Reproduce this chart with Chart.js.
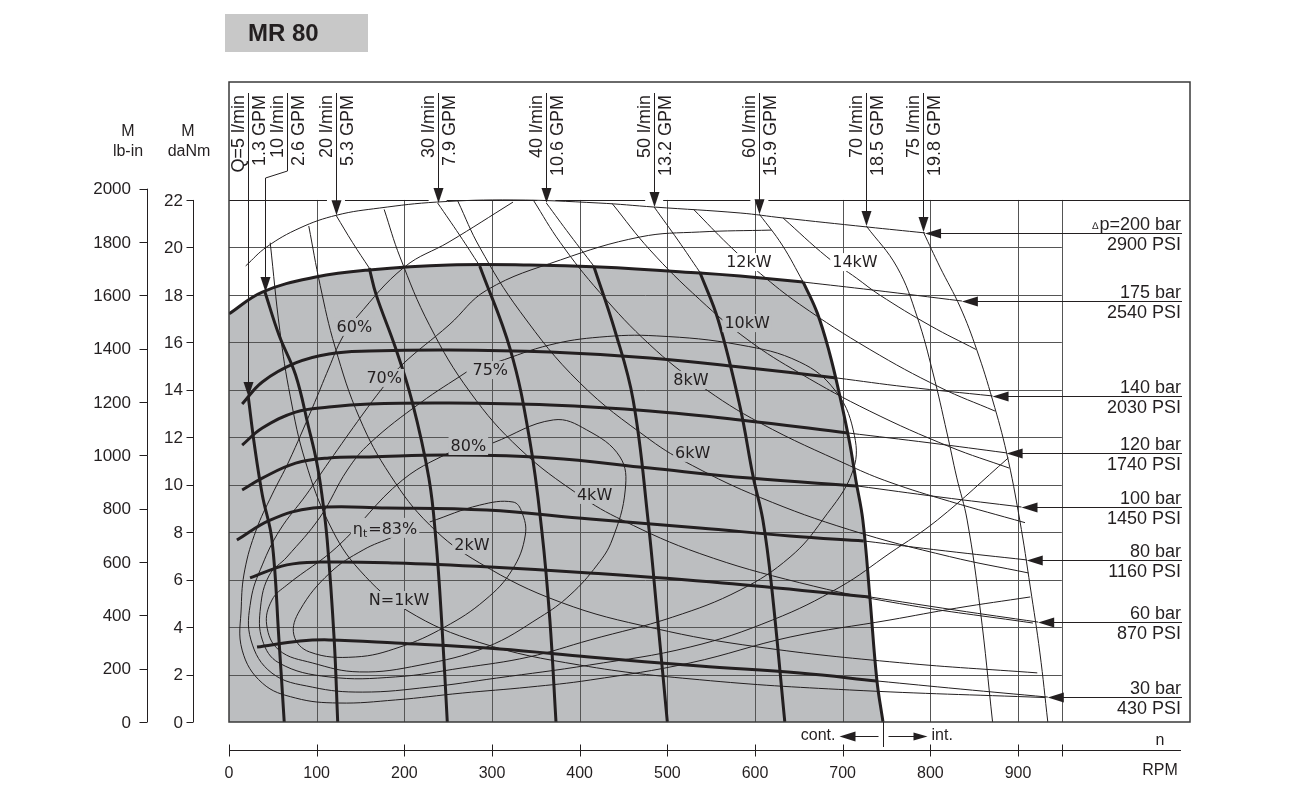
<!DOCTYPE html>
<html>
<head>
<meta charset="utf-8">
<title>MR 80</title>
<script src="https://cdn.jsdelivr.net/npm/chart.js@4.4.0/dist/chart.umd.min.js"></script>
<style>
  html, body { margin: 0; padding: 0; background: #fff; }
  canvas { display: block; }
</style>
</head>
<body>
<canvas id="chart" width="1296" height="794"></canvas>
<script>
// axes
const rpmTicks = [0, 100, 200, 300, 400, 500, 600, 700, 800, 900];
const rpmGrid = [100, 200, 300, 400, 500, 600, 700, 800, 900, 950];
const nmTicks = [0, 2, 4, 6, 8, 10, 12, 14, 16, 18, 20, 22];
const lbTicks = [0, 200, 400, 600, 800, 1000, 1200, 1400, 1600, 1800, 2000];

// pressure lines [rpm, daNm]: bold = continuous, Int = intermittent (thin)
const p30 = [[32, 3.16], [81, 3.41], [114, 3.46], [190, 3.33], [309, 3.08], [411, 2.74], [537, 2.36], [651, 2.06], [739, 1.73]];
const p30Int = [[739, 1.73], [834, 1.39], [934, 1.05]];
const p60 = [[24, 6.07], [66, 6.62], [104, 6.74], [190, 6.70], [298, 6.53], [411, 6.28], [563, 5.86], [731, 5.27]];
const p60Int = [[731, 5.27], [828, 4.72], [923, 4.21]];
const p80 = [[9, 7.67], [47, 8.51], [96, 9.02], [180, 9.02], [294, 8.93], [412, 8.55], [537, 8.18], [640, 7.84], [724, 7.63]];
const p80Int = [[724, 7.63], [817, 7.21], [910, 6.83]];
const p100 = [[15, 9.78], [38, 10.28], [76, 10.91], [114, 11.13], [160, 11.17], [251, 11.25], [366, 11.13], [480, 10.70], [594, 10.28], [716, 9.95]];
const p100Int = [[716, 9.95], [811, 9.48], [904, 9.06]];
const p120 = [[15, 11.67], [38, 12.39], [76, 13.06], [114, 13.27], [160, 13.40], [251, 13.44], [366, 13.36], [480, 13.11], [583, 12.73], [706, 12.18]];
const p120Int = [[706, 12.18], [800, 11.76], [887, 11.34]];
const p140 = [[15, 13.40], [38, 14.33], [76, 15.13], [114, 15.51], [160, 15.63], [251, 15.68], [366, 15.59], [480, 15.34], [583, 14.96], [693, 14.50]];
const p140Int = [[693, 14.50], [773, 14.12], [871, 13.74]];
const p175 = [[0, 17.2], [38, 18.12], [99, 18.75], [160, 19.05], [251, 19.26], [343, 19.26], [423, 19.17], [537, 18.92], [583, 18.79], [655, 18.54]];
const p175Int = [[655, 18.54], [735, 18.20], [836, 17.74]];
const p200Int = [[19, 19.22], [43, 20.02], [81, 20.82], [123, 21.36], [172, 21.66], [237, 21.91], [324, 22.0], [422, 21.87], [485, 21.70], [583, 21.45], [632, 21.24], [728, 20.86], [794, 20.61]];

// flow lines (l/min)
const q5 = [[22, 13.7], [29, 11.67], [38, 9.57], [49, 7.67], [57, 3.46], [63, 0]];
const q10 = [[41, 18.12], [57, 16.31], [76, 14.62], [91, 12.39], [100, 10.96], [106, 9.57], [112, 7.67], [120, 3.46], [124, 0]];
const q20Int = [[122, 21.36], [141, 20.2], [160, 19.13]];
const q20 = [[160, 19.13], [168, 17.99], [190, 15.76], [209, 13.49], [228, 10.28], [236, 7.67], [243, 4.0], [249, 0]];
const q30Int = [[238, 21.87], [263, 20.52], [286, 19.22]];
const q30 = [[286, 19.22], [321, 15.68], [343, 11.88], [357, 8.0], [366, 4.3], [373, 0]];
const q40Int = [[362, 21.87], [389, 20.52], [416, 19.22]];
const q40 = [[416, 19.22], [440, 16.52], [461, 13.57], [478, 8.51], [489, 4.3], [500, 0]];
const q50Int = [[485, 21.70], [512, 20.31], [537, 18.96]];
const q50 = [[537, 18.96], [558, 16.94], [583, 13.27], [598, 10.32], [609, 8.51], [619, 5.69], [634, 0]];
const q60Int = [[605, 21.4], [631, 20.10], [655, 18.54]];
const q60 = [[655, 18.54], [671, 17.24], [685, 15.55], [697, 13.70], [708, 11.76], [715, 10.20], [723, 8.51], [731, 5.27], [739, 1.77], [746, 0]];
const q70Int = [[727, 20.9], [762, 19.17], [785, 17.07], [803, 14.71], [819, 12.18], [830, 10.32], [842, 8.51], [857, 4.72], [871, 0]];
const q75Int = [[792, 20.65], [811, 19.17], [834, 17.49], [853, 15.68], [871, 13.57], [887, 11.34], [902, 8.51], [914, 5.69], [925, 2.91], [934, 0]];

// output power lines (kW)
const kw1 = [[47, 20.2], [58, 16.5], [70, 13.7], [87, 11.0], [115, 8.3], [149, 6.4], [203, 4.7], [286, 3.35], [400, 2.4], [537, 1.78], [708, 1.35], [931, 1.03]];
const kw2 = [[91, 20.9], [104, 18.4], [121, 15.8], [149, 12.8], [184, 10.4], [229, 8.3], [286, 6.7], [378, 5.05], [485, 3.95], [602, 3.17], [765, 2.5], [922, 2.07]];
const kw4 = [[177, 21.6], [195, 19.6], [229, 16.7], [275, 13.9], [332, 11.5], [400, 9.55], [449, 8.5], [537, 7.1], [651, 5.87], [765, 4.99], [917, 4.17]];
const kw6 = [[261, 21.95], [286, 20.0], [332, 17.3], [400, 14.3], [480, 11.9], [529, 10.8], [606, 9.46], [708, 8.1], [822, 6.97], [912, 6.28]];
const kw8 = [[347, 22.0], [378, 20.2], [423, 18.1], [480, 15.9], [537, 14.2], [606, 12.6], [708, 10.8], [754, 10.1], [822, 9.3], [908, 8.4]];
const kw10 = [[437, 21.85], [480, 19.9], [537, 17.8], [592, 16.1], [651, 14.7], [731, 13.1], [822, 11.6], [890, 10.7]];
const kw12 = [[530, 21.6], [570, 20.1], [606, 18.9], [651, 17.6], [731, 15.7], [811, 14.1], [874, 13.1]];
const kw14 = [[632, 21.24], [682, 19.6], [716, 18.7], [742, 18.0], [800, 16.7], [852, 15.7]];

// total efficiency lines
const eff60 = [[324, 21.91], [251, 20.23], [200, 19.17], [146, 17.07], [129, 16.18], [114, 14.92], [95, 13.23], [68, 10.96], [49, 9.57], [31, 8.09], [18, 6.41], [14, 4.85], [15, 3.03], [38, 1.64], [76, 1.01], [125, 0.80], [190, 0.93], [266, 1.22], [342, 1.47], [412, 1.77], [526, 2.49], [640, 3.58], [754, 4.30], [830, 4.80], [914, 5.27]];
const eff70 = [[619, 20.73], [537, 20.65], [469, 20.44], [378, 19.47], [294, 18.20], [251, 16.73], [197, 15.04], [175, 14.07], [152, 12.94], [114, 10.96], [88, 9.57], [58, 8.09], [38, 6.62], [25, 5.14], [25, 3.46], [49, 2.06], [95, 1.47], [152, 1.26], [228, 1.47], [305, 1.85], [411, 2.40], [526, 3.16], [620, 4.30], [697, 5.69], [754, 7.12], [808, 8.51], [889, 11.13]];
const eff75 = [[306, 15.17], [366, 15.89], [423, 16.22], [488, 16.27], [583, 15.89], [651, 15.17], [691, 13.99], [712, 12.31], [712, 10.62], [677, 8.51], [640, 6.95], [583, 5.56], [506, 4.42], [412, 3.46], [342, 2.74], [266, 2.28], [190, 1.90], [114, 1.90], [57, 2.49], [38, 3.46], [36, 4.85], [46, 6.19], [66, 6.95], [104, 8.64], [135, 10.62], [161, 11.76], [218, 13.44], [271, 14.75]];
const eff80 = [[301, 11.76], [370, 12.73], [408, 12.31], [446, 11.17], [452, 9.78], [437, 7.67], [420, 6.62], [389, 5.35], [355, 4.42], [294, 3.16], [218, 2.40], [149, 2.11], [95, 2.49], [57, 3.03], [43, 4.09], [49, 5.14], [66, 5.77], [123, 7.37], [198, 10.20], [263, 11.59]];
const eff83 = [[229, 8.43], [286, 9.14], [324, 9.27], [334, 8.85], [338, 7.88], [323, 6.41], [292, 5.14], [246, 4.00], [195, 3.16], [144, 2.74], [92, 2.95], [74, 3.67], [81, 4.72], [115, 6.28], [153, 7.25], [187, 7.80]];

// labels
const flowLpm = [5, 10, 20, 30, 40, 50, 60, 70, 75];
const flowGpm = ['1.3', '2.6', '5.3', '7.9', '10.6', '13.2', '15.9', '18.5', '19.8'];
const pressureBar = [200, 175, 140, 120, 100, 80, 60, 30];
const pressurePsi = [2900, 2540, 2030, 1740, 1450, 1160, 870, 430];

const flowTips = [q5, q10, q20Int, q30Int, q40Int, q50Int, q60Int, q70Int, q75Int];
const pressureTips = [p200Int, p175Int, p140Int, p120Int, p100Int, p80Int, p60Int, p30Int];

const markLabels = [
    { text: '60%', at: [143, 16.65] },
    { text: '70%', at: [177, 14.5] },
    { text: '75%', at: [298, 14.83] },
    { text: '80%', at: [273, 11.63] },
    { text: 'eta', at: [178, 8.18] },
    { text: 'N=1kW', at: [194, 5.14] },
    { text: '2kW', at: [277, 7.46] },
    { text: '4kW', at: [417, 9.57] },
    { text: '6kW', at: [529, 11.34] },
    { text: '8kW', at: [527, 14.41] },
    { text: '10kW', at: [591, 16.81] },
    { text: '12kW', at: [593, 19.38] },
    { text: '14kW', at: [714, 19.38] }
];

const ink = '#231f20';
const gridInk = '#555555';
const grey = '#bcbec0';
const textFont = '"Liberation Sans", Arial, sans-serif';
const markFont = '"DejaVu Sans", sans-serif';
const THIN = 1, BOLD = 3;

function line(label, arr, width) {
    return {
        label: label,
        data: arr.map(p => ({ x: p[0], y: p[1] })),
        borderColor: ink,
        borderWidth: width,
        pointRadius: 0,
        tension: 0.4,
        fill: false
    };
}

const datasets = [
    line('175 bar', p175, BOLD), line('140 bar', p140, BOLD), line('120 bar', p120, BOLD),
    line('100 bar', p100, BOLD), line('80 bar', p80, BOLD), line('60 bar', p60, BOLD), line('30 bar', p30, BOLD),
    line('Q5', q5, BOLD), line('Q10', q10, BOLD), line('Q20', q20, BOLD), line('Q30', q30, BOLD),
    line('Q40', q40, BOLD), line('Q50', q50, BOLD), line('Q60', q60, BOLD),
    line('200 bar', p200Int, THIN), line('175 bar int', p175Int, THIN), line('140 bar int', p140Int, THIN),
    line('120 bar int', p120Int, THIN), line('100 bar int', p100Int, THIN), line('80 bar int', p80Int, THIN),
    line('60 bar int', p60Int, THIN), line('30 bar int', p30Int, THIN),
    line('Q20 int', q20Int, THIN), line('Q30 int', q30Int, THIN), line('Q40 int', q40Int, THIN),
    line('Q50 int', q50Int, THIN), line('Q60 int', q60Int, THIN), line('Q70', q70Int, THIN), line('Q75', q75Int, THIN),
    line('1 kW', kw1, THIN), line('2 kW', kw2, THIN), line('4 kW', kw4, THIN), line('6 kW', kw6, THIN),
    line('8 kW', kw8, THIN), line('10 kW', kw10, THIN), line('12 kW', kw12, THIN), line('14 kW', kw14, THIN),
    line('60%', eff60, THIN), line('70%', eff70, THIN), line('75%', eff75, THIN),
    line('80%', eff80, THIN), line('83%', eff83, THIN)
];

let areaPath = null;

function crisp(v) { return Math.round(v) + 0.5; }

function buildArea(chart) {
    const { x, y } = chart.scales;
    const idxTop = chart.data.datasets.findIndex(d => d.label === '175 bar');
    const idxSide = chart.data.datasets.findIndex(d => d.label === 'Q60');
    const top = chart.getDatasetMeta(idxTop).data;
    const side = chart.getDatasetMeta(idxSide).data;
    const path = new Path2D();
    path.moveTo(x.getPixelForValue(0), y.getPixelForValue(0));
    path.lineTo(top[0].x, top[0].y);
    [top, side].forEach(pts => {
        for (let i = 1; i < pts.length; i++) {
            const a = pts[i - 1], b = pts[i];
            path.bezierCurveTo(a.cp2x, a.cp2y, b.cp1x, b.cp1y, b.x, b.y);
        }
    });
    path.closePath();
    return path;
}

function vText(ctx, text, cx, topY) {
    ctx.save();
    ctx.translate(cx + 6.5, topY);
    ctx.rotate(-Math.PI / 2);
    ctx.textAlign = 'right';
    ctx.textBaseline = 'alphabetic';
    ctx.fillText(text, 0, 0);
    ctx.restore();
}

function arrowHead(ctx, tx, ty, dir) {
    // dir: 'down', 'left', 'right'
    ctx.beginPath();
    if (dir === 'down') {
        ctx.moveTo(tx, ty); ctx.lineTo(tx - 5, ty - 15); ctx.lineTo(tx + 5, ty - 15);
    } else if (dir === 'left') {
        ctx.moveTo(tx, ty); ctx.lineTo(tx + 16, ty - 5); ctx.lineTo(tx + 16, ty + 5);
    } else {
        ctx.moveTo(tx, ty); ctx.lineTo(tx - 14, ty - 4); ctx.lineTo(tx - 14, ty + 4);
    }
    ctx.closePath();
    ctx.fill();
}

const drawing = {
    id: 'mrDrawing',
    beforeDatasetsDraw(chart) {
        const { ctx, chartArea: a, scales: { x, y } } = chart;
        areaPath = buildArea(chart);
        ctx.save();
        ctx.fillStyle = grey;
        ctx.fill(areaPath);

        // grid
        ctx.strokeStyle = gridInk;
        ctx.lineWidth = 1;
        ctx.beginPath();
        rpmGrid.forEach(v => {
            const px = crisp(x.getPixelForValue(v));
            ctx.moveTo(px, y.getPixelForValue(22));
            ctx.lineTo(px, a.bottom);
        });
        nmTicks.filter(v => v > 0 && v < 22).forEach(v => {
            const py = crisp(y.getPixelForValue(v));
            ctx.moveTo(a.left, py);
            ctx.lineTo(x.getPixelForValue(950), py);
        });
        ctx.stroke();

        // top torque line, broken where flow arrows pass
        const py22 = crisp(y.getPixelForValue(22));
        const gaps = [2, 3, 4, 5, 6].map(i => x.getPixelForValue(flowTips[i][0][0]));
        ctx.strokeStyle = ink;
        ctx.beginPath();
        let from = a.left;
        gaps.forEach(g => {
            ctx.moveTo(from, py22); ctx.lineTo(g - 9, py22);
            from = g + 9;
        });
        ctx.moveTo(from, py22); ctx.lineTo(a.right, py22);
        ctx.stroke();
        ctx.restore();
    },
    afterDatasetsDraw(chart) {
        const { ctx, chartArea: a, scales: { x, y, yLb } } = chart;
        ctx.save();

        // frame
        ctx.strokeStyle = '#3a3a3a';
        ctx.lineWidth = 1.5;
        ctx.strokeRect(a.left, a.top, a.right - a.left, a.bottom - a.top);

        // power / efficiency labels
        markLabels.forEach(l => {
            const px = x.getPixelForValue(l.at[0]);
            const py = y.getPixelForValue(l.at[1]);
            const bg = ctx.isPointInPath(areaPath, px, py) ? grey : '#ffffff';
            if (l.text === 'eta') {
                ctx.font = '16px ' + markFont;
                const wa = ctx.measureText('\u03b7').width;
                const wc = ctx.measureText('=83%').width;
                ctx.font = '11px ' + markFont;
                const wb = ctx.measureText('t').width;
                const w = wa + wb + 1 + wc;
                const left = px - w / 2;
                ctx.fillStyle = bg;
                ctx.fillRect(left - 2, py - 10, w + 4, 20);
                ctx.fillStyle = ink;
                ctx.textAlign = 'left';
                ctx.textBaseline = 'alphabetic';
                ctx.font = '16px ' + markFont;
                ctx.fillText('\u03b7', left, py + 6);
                ctx.font = '11px ' + markFont;
                ctx.fillText('t', left + wa, py + 9);
                ctx.font = '16px ' + markFont;
                ctx.fillText('=83%', left + wa + wb + 1, py + 6);
                return;
            }
            ctx.font = '16px ' + markFont;
            const w = ctx.measureText(l.text).width;
            ctx.fillStyle = bg;
            ctx.fillRect(px - w / 2 - 2, py - 9, w + 4, 18);
            ctx.fillStyle = ink;
            ctx.textAlign = 'center';
            ctx.textBaseline = 'middle';
            ctx.fillText(l.text, px, py + 1);
        });

        // flow arrows and labels
        ctx.strokeStyle = ink;
        ctx.fillStyle = ink;
        ctx.lineWidth = 1;
        ctx.font = '18px ' + textFont;
        flowLpm.forEach((q, i) => {
            const tip = flowTips[i][0];
            const tx = crisp(x.getPixelForValue(tip[0]));
            const ty = y.getPixelForValue(tip[1]);
            const sx = q === 10 ? tx + 22 : tx;
            ctx.beginPath();
            ctx.moveTo(sx, 93);
            if (sx !== tx) {
                ctx.lineTo(sx, 171);
                ctx.lineTo(tx, 178);
            }
            ctx.lineTo(tx, ty - 10);
            ctx.stroke();
            arrowHead(ctx, tx, ty, 'down');
            vText(ctx, (i === 0 ? 'Q=' : '') + q + ' l/min', sx - 11, 95);
            vText(ctx, flowGpm[i] + ' GPM', sx + 10, 95);
        });

        // pressure arrows and labels
        pressureBar.forEach((bar, i) => {
            const arr = pressureTips[i];
            const tip = arr[arr.length - 1];
            const tx = x.getPixelForValue(tip[0]);
            const ty = crisp(y.getPixelForValue(tip[1]));
            ctx.beginPath();
            ctx.moveTo(tx + 12, ty);
            ctx.lineTo(1182, ty);
            ctx.stroke();
            arrowHead(ctx, tx, ty, 'left');
            ctx.font = '18px ' + textFont;
            ctx.textAlign = 'right';
            ctx.textBaseline = 'alphabetic';
            if (i === 0) {
                const t = 'p=' + bar + ' bar';
                const w = ctx.measureText(t).width;
                ctx.fillText(t, 1181, ty - 4);
                ctx.font = '10px ' + textFont;
                ctx.fillText('\u2206', 1181 - w - 1, ty - 5);
                ctx.font = '18px ' + textFont;
            } else {
                ctx.fillText(bar + ' bar', 1181, ty - 4);
            }
            ctx.textBaseline = 'top';
            ctx.fillText(pressurePsi[i] + ' PSI', 1181, ty + 3);
        });

        // torque axes (daNm and lb-in)
        const axNm = 193.5, axLb = 147.5;
        ctx.lineWidth = 1;
        ctx.beginPath();
        ctx.moveTo(axNm, y.getPixelForValue(0));
        ctx.lineTo(axNm, y.getPixelForValue(22));
        nmTicks.forEach(v => {
            const py = crisp(y.getPixelForValue(v));
            ctx.moveTo(axNm - 7, py);
            ctx.lineTo(axNm, py);
        });
        ctx.moveTo(axLb, yLb.getPixelForValue(0));
        ctx.lineTo(axLb, yLb.getPixelForValue(2000));
        lbTicks.forEach(v => {
            const py = crisp(yLb.getPixelForValue(v));
            ctx.moveTo(axLb - 8, py);
            ctx.lineTo(axLb, py);
        });
        ctx.stroke();

        ctx.font = '17px ' + textFont;
        ctx.textAlign = 'right';
        ctx.textBaseline = 'middle';
        nmTicks.forEach(v => ctx.fillText(String(v), 183, y.getPixelForValue(v) + 1));
        lbTicks.forEach(v => ctx.fillText(String(v), 131, yLb.getPixelForValue(v) + 1));

        ctx.font = '16px ' + textFont;
        ctx.textAlign = 'center';
        ctx.fillText('M', 128, 132);
        ctx.fillText('lb-in', 128, 152);
        ctx.fillText('M', 188, 132);
        ctx.fillText('daNm', 189, 152);

        // speed axis
        const axY = 750.5;
        ctx.beginPath();
        ctx.moveTo(a.left, axY);
        ctx.lineTo(1181, axY);
        rpmTicks.concat([950]).forEach(v => {
            const px = crisp(x.getPixelForValue(v));
            ctx.moveTo(px, axY - 6);
            ctx.lineTo(px, axY + 6);
        });
        ctx.stroke();
        ctx.font = '16px ' + textFont;
        ctx.textAlign = 'center';
        ctx.textBaseline = 'middle';
        rpmTicks.forEach(v => ctx.fillText(String(v), x.getPixelForValue(v), 774));
        ctx.fillText('n', 1160, 741);
        ctx.fillText('RPM', 1160, 771);

        // continuous / intermittent limit
        const lim = crisp(x.getPixelForValue(q60[q60.length - 1][0]));
        ctx.beginPath();
        ctx.moveTo(lim, a.bottom);
        ctx.lineTo(lim, 747);
        ctx.moveTo(lim - 5, 736.5);
        ctx.lineTo(lim - 35, 736.5);
        ctx.moveTo(lim + 5, 736.5);
        ctx.lineTo(lim + 35, 736.5);
        ctx.stroke();
        arrowHead(ctx, lim - 44, 736.5, 'left');
        arrowHead(ctx, lim + 44, 736.5, 'right');
        ctx.textAlign = 'right';
        ctx.fillText('cont.', lim - 48, 736);
        ctx.textAlign = 'left';
        ctx.fillText('int.', lim + 48, 736);

        // title box
        ctx.fillStyle = '#c8c8c8';
        ctx.fillRect(225, 14, 143, 38);
        ctx.fillStyle = ink;
        ctx.font = 'bold 24px ' + textFont;
        ctx.textAlign = 'left';
        ctx.textBaseline = 'middle';
        ctx.fillText('MR 80', 248, 34);
        ctx.restore();
    }
};

new Chart(document.getElementById('chart').getContext('2d'), {
    type: 'line',
    data: { datasets: datasets },
    options: {
        responsive: false,
        animation: false,
        events: [],
        layout: { padding: { left: 229, right: 106, top: 82, bottom: 72 } },
        scales: {
            x: { type: 'linear', min: 0, max: 1096.2, display: false },
            y: { type: 'linear', min: 0, max: 26.97, display: false },
            yLb: { type: 'linear', position: 'left', min: 0, max: 2400, display: false }
        },
        plugins: {
            legend: { display: false },
            tooltip: { enabled: false }
        }
    },
    plugins: [drawing]
});
</script>
</body>
</html>
